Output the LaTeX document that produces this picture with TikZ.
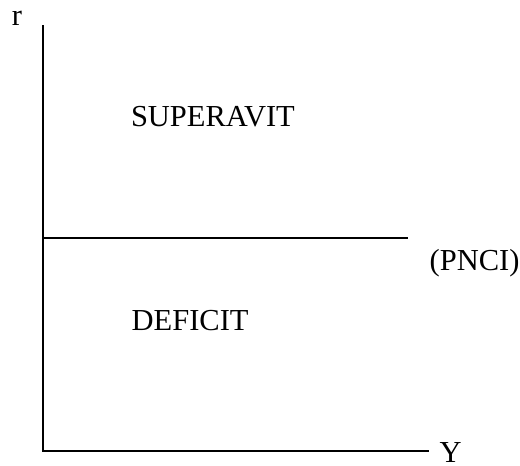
\documentclass[tikz,border=0pt]{standalone}
\usepackage{fontspec}
\setmainfont{Liberation Serif}
\begin{document}
\begin{tikzpicture}[x=1pt,y=-1pt,
  lbl/.style={inner sep=0pt,anchor=base west,font=\fontsize{30.5}{36}\selectfont},
  axisline/.style={line width=1.5pt,line cap=rect}]
\useasboundingbox (0,0) rectangle (520,466);
\coordinate (top) at (43,26);
\coordinate (o) at (43,451);
\coordinate (xend) at (428,451);
\coordinate (p0) at (43,238);
\coordinate (p1) at (407,238);
\draw[axisline] (top) -- (o) -- (xend);
\draw[axisline] (p0) -- (p1);
\node[lbl] (r) at (11.8,25) {r};
\node[lbl,text depth=0pt] (ylab) at (439.5,462.5) {Y};
\node[lbl] (pnci) at (429.5,270) {(PNCI)};
\node[lbl] (sup) at (130.8,126) {SUPERAVIT};
\node[lbl] (def) at (131.5,330) {DEFICIT};
\end{tikzpicture}
\end{document}
